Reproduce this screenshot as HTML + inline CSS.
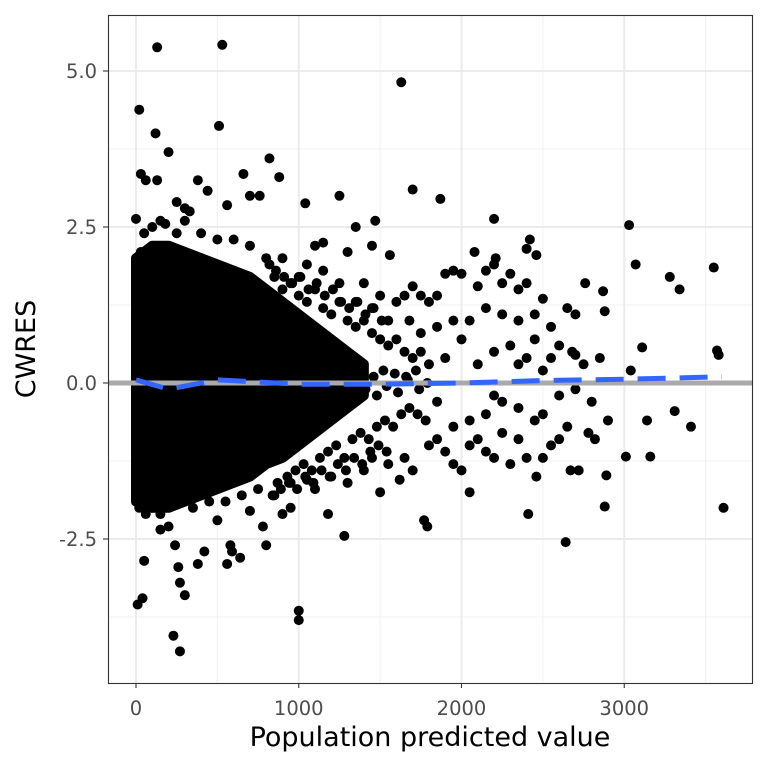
<!DOCTYPE html>
<html><head><meta charset="utf-8"><style>
html,body{margin:0;padding:0;background:#fff;}
svg{display:block;font-family:"DejaVu Sans","Liberation Sans",sans-serif;}
</style></head><body>
<svg id="chart" width="768" height="768" viewBox="0 0 768 768">
<rect x="0" y="0" width="768" height="768" fill="#fff"/>
<g id="grid"></g>
<g id="band"></g>
<g id="pts"></g>
<g id="lines"></g>
<rect x="108.5" y="15.5" width="644" height="668" fill="none" stroke="#333" stroke-width="1.1"/>
<g id="axes"></g>
<text x="430" y="746" font-size="27" text-anchor="middle" fill="#000">Population predicted value</text>
<text transform="translate(35,349) rotate(-90)" font-size="27" text-anchor="middle" fill="#000">CWRES</text>
</svg>
<script>
const xTicks=[0,1000,2000,3000];
const xTickLabels=["0","1000","2000","3000"];
const yTicks=[-2.5,0,2.5,5];
const yTickLabels=["-2.5","0.0","2.5","5.0"];
const bandX=[0,100,200,300,400,500,600,700,800,900,1000,1100,1200,1300,1400];
const bandHi=[2.0,2.2,2.2,2.1,2.0,1.9,1.8,1.7,1.5,1.3,1.1,0.9,0.7,0.5,0.3];
const bandLo=[-1.9,-2.0,-2.0,-1.9,-1.8,-1.7,-1.6,-1.5,-1.3,-1.2,-1.0,-0.8,-0.6,-0.4,-0.2];
const pointsX=[130,530,20,1630,120,510,200,820,30,60,130,380,440,660,700,760,880,1700,1870,1040,1250,0,330,560,1470,2200,3030,3070,3280,3340,3550,3570,3580,3610,3410,3310,3160,3140,3110,3010,3040,2870,2880,2890,2880,2760,2640,2410,2420,2400,2460,2210,2080,2500,2680,2700,2700,2800,2780,2670,2720,2460,2300,2050,1770,1790,1620,1500,1280,1180,1000,1000,800,780,900,950,580,590,640,420,380,260,270,300,230,270,10,40,50,150,240,560,
1100,1150,1300,1350,1450,1560,1400,1500,1600,1650,1700,1750,1800,1850,1900,1950,2000,2100,2150,2200,2250,2300,2350,2400,2450,2550,2600,2650,2350,2250,2150,2050,1950,1850,1750,1680,1550,1450,1350,1250,1150,1050,1000,
1100,1200,1300,1400,1450,1550,1650,1700,1800,1850,1900,1950,2000,2050,2100,2150,2200,2250,2350,2400,2450,2500,2550,2600,2650,2500,2350,2250,2150,2050,1950,1850,2600,2700,2500,2400,2300,2200,2100,2000,1900,2750,2550,2450,2350,2200,2850,2900,2820,
50,100,150,250,300,400,500,600,700,800,900,150,350,450,550,650,750,850,950,1050,100,200,500,700,250,300,180,
850,900,950,1000,1050,1100,1150,1200,1250,1300,1350,1400,1450,1500,1550,1600,1650,1700,1750,1800,
870,930,980,1030,1080,1130,1180,1230,1280,1330,1380,1430,1480,1530,1580,1630,1680,1730,1780,
860,920,990,1060,1120,1190,1260,1320,1390,1460,1520,1590,1660,1720,1790,
880,940,1010,1070,1140,1210,1270,1340,1410,1480,1540,1610,1670,1740,
820,860,910,960,1010,1060,1110,1160,1210,1260,1310,1360,1410,1460,1510,
840,890,940,990,1040,1090,1140,1190,1240,1290,1340,1390,1440,1490,1540,
30,80,20,60];
const pointsY=[5.38,5.42,4.38,4.82,4.0,4.12,3.7,3.6,3.35,3.25,3.25,3.25,3.08,3.35,3.0,3.0,3.3,3.1,2.95,2.88,3.0,2.63,2.75,2.85,2.6,2.63,2.53,1.9,1.7,1.5,1.85,0.52,0.45,-2.0,-0.7,-0.45,-1.18,-0.6,0.57,-1.18,0.2,1.47,1.15,-1.48,-1.98,1.6,-2.55,-2.1,2.3,2.15,2.05,2.0,2.1,1.35,0.5,0.45,1.1,-0.3,-0.8,-1.4,-1.4,-1.5,-1.3,-1.75,-2.2,-2.3,-1.55,-1.75,-2.45,-2.1,-3.65,-3.8,-2.6,-2.3,-2.1,-2.0,-2.6,-2.7,-2.8,-2.7,-2.9,-2.95,-3.2,-3.4,-4.05,-4.3,-3.55,-3.45,-2.85,-2.35,-2.6,-2.9,
2.2,2.25,2.1,2.5,2.2,2.05,1.6,1.4,1.3,1.4,1.55,1.4,1.3,1.4,1.75,1.8,1.75,1.55,1.8,1.9,1.6,1.75,1.5,1.6,1.1,0.9,0.6,1.2,1.0,1.1,1.2,1.0,1.0,0.9,0.8,1.0,1.0,1.2,1.3,1.6,1.8,1.9,1.7,
-1.7,-1.5,-1.6,-1.4,-1.2,-1.3,-1.2,-1.4,-1.0,-0.9,-1.1,-1.3,-1.4,-1.0,-0.9,-1.1,-1.2,-0.8,-0.9,-1.2,-0.6,-0.5,-1.0,-0.9,-0.7,-1.2,-0.4,-0.3,-0.5,-0.6,-0.7,-0.3,-0.2,-0.1,0.2,0.4,0.6,0.5,0.3,0.7,0.4,0.3,0.4,0.7,0.3,-0.2,0.4,-0.6,-0.9,
2.4,2.5,2.6,2.4,2.6,2.4,2.3,2.3,2.2,2.0,2.0,-2.1,-2.0,-1.9,-1.9,-1.8,-1.7,-1.8,-1.6,-1.55,-2.0,-2.3,-2.2,-2.05,2.9,2.8,2.55,
1.7,1.5,1.6,1.4,1.3,1.5,1.2,1.1,1.3,1.0,0.9,1.0,0.8,0.7,0.6,0.7,0.5,0.4,0.5,0.3,
-1.6,-1.5,-1.4,-1.3,-1.4,-1.2,-1.1,-1.0,-1.2,-0.9,-0.8,-0.9,-0.7,-0.6,-0.7,-0.5,-0.4,-0.5,-0.6,
0.9,0.7,0.8,0.5,0.6,0.4,0.3,0.4,0.2,0.1,0.2,0.15,0.1,0.2,0.0,
-0.8,-0.6,-0.5,-0.4,-0.3,-0.2,-0.1,0.0,-0.1,-0.2,-0.05,-0.15,0.05,-0.1,
1.9,1.8,1.7,1.6,1.7,1.5,1.6,1.4,1.5,1.3,1.2,1.3,1.1,1.2,1.0,
-1.8,-1.7,-1.6,-1.7,-1.5,-1.6,-1.4,-1.5,-1.3,-1.4,-1.2,-1.3,-1.1,-1.0,-1.1,
2.1,2.0,-2.0,-2.1];
const smoothX=[0,200,500,1000,1500,2000,2500,3000,3600];
const smoothY=[0.05,-0.1,0.05,-0.02,-0.02,0.0,0.04,0.06,0.1];

const NS="http://www.w3.org/2000/svg";
const sx=v=>136+v*0.16275;
const sy=v=>383-v*62.4;
function mk(tag,parent,attrs){const e=document.createElementNS(NS,tag);for(const k in attrs)e.setAttribute(k,attrs[k]);parent.appendChild(e);return e;}
const grid=document.getElementById('grid'),axes=document.getElementById('axes');
[-1.25,1.25,3.75,-3.75].forEach(v=>{const l=mk('line',grid,{x1:108,x2:752,y1:sy(v),y2:sy(v),stroke:'#f0f0f0','stroke-width':1});

});
[500,1500,2500,3500].forEach(v=>{const l=mk('line',grid,{x1:sx(v),x2:sx(v),y1:15,y2:683,stroke:'#f0f0f0','stroke-width':1});

});
yTicks.forEach((v,i)=>{const y=sy(v);
const g=mk('line',grid,{x1:108,x2:752,y1:y,y2:y,stroke:'#ebebeb','stroke-width':2});


const t=mk('line',axes,{x1:103,x2:108,y1:y,y2:y,stroke:'#333','stroke-width':1.1});


const tx=mk('text',axes,{x:97,y:y+7,'font-size':19.5,'text-anchor':'end',fill:'#4d4d4d'});tx.textContent=yTickLabels[i];

});
xTicks.forEach((v,i)=>{const x=sx(v);
const g=mk('line',grid,{x1:x,x2:x,y1:15,y2:683,stroke:'#ebebeb','stroke-width':2});


const t=mk('line',axes,{x1:x,x2:x,y1:683,y2:688,stroke:'#333','stroke-width':1.1});


const tx=mk('text',axes,{x:x,y:715,'font-size':19.5,'text-anchor':'middle',fill:'#4d4d4d'});tx.textContent=xTickLabels[i];

});
let d='';bandX.forEach((v,i)=>{d+=(i?'L':'M')+sx(v)+','+sy(bandHi[i]);});
for(let i=bandX.length-1;i>=0;i--)d+='L'+sx(bandX[i])+','+sy(bandLo[i]);d+='Z';
const band=mk('path',document.getElementById('band'),{d:d,fill:'#000',stroke:'#000','stroke-width':10,'stroke-linejoin':'round'});


const pg=document.getElementById('pts');
pointsX.forEach((v,i)=>{const c=mk('circle',pg,{cx:sx(v),cy:sy(pointsY[i]),r:5,fill:'#000'});

});
const lg=document.getElementById('lines');
const h=mk('line',lg,{x1:108,x2:752,y1:sy(0),y2:sy(0),stroke:'#aaaaaa','stroke-width':5});


const sm=mk('polyline',lg,{points:smoothX.map((v,i)=>sx(v)+','+sy(smoothY[i])).join(' '),fill:'none',stroke:'#3366FF','stroke-width':5,'stroke-dasharray':'28,14'});


</script>
</body></html>
